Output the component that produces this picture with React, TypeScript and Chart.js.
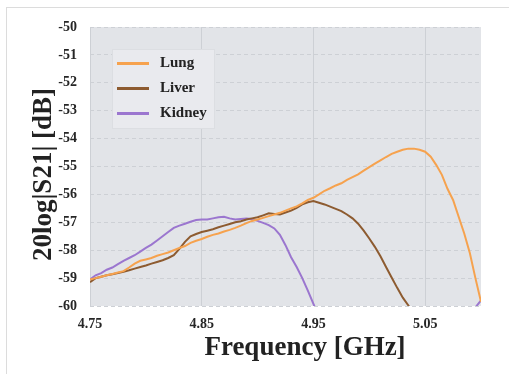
import React, { useEffect, useRef } from "react";
import { Chart, registerables } from "chart.js";

Chart.register(...registerables);

// Frequency grid (GHz)
const freqGHz = [
  4.75, 4.755, 4.76, 4.765, 4.77, 4.775, 4.78, 4.785, 4.79, 4.795,
  4.8, 4.805, 4.81, 4.815, 4.82, 4.825, 4.83, 4.835, 4.84, 4.845,
  4.85, 4.855, 4.86, 4.865, 4.87, 4.875, 4.88, 4.885, 4.89, 4.895,
  4.9, 4.905, 4.91, 4.915, 4.92, 4.925, 4.93, 4.935, 4.94, 4.945,
  4.95, 4.955, 4.96, 4.965, 4.97, 4.975, 4.98, 4.985, 4.99, 4.995,
  5.0, 5.005, 5.01, 5.015, 5.02, 5.025, 5.03, 5.035, 5.04, 5.045,
  5.05, 5.055, 5.06, 5.065, 5.07, 5.075, 5.08, 5.085, 5.09, 5.095,
  5.1,
];

const lungDb = [
  -59.05, -59.0, -58.95, -58.9, -58.85, -58.8, -58.75, -58.62, -58.48, -58.38,
  -58.33, -58.28, -58.2, -58.14, -58.08, -58.0, -57.92, -57.85, -57.74, -57.66,
  -57.6, -57.52, -57.45, -57.4, -57.33, -57.27, -57.2, -57.12, -57.03, -56.95,
  -56.9, -56.84, -56.78, -56.72, -56.66, -56.58, -56.5, -56.43, -56.32, -56.2,
  -56.12, -56.0, -55.87, -55.78, -55.68, -55.6, -55.48, -55.38, -55.28, -55.15,
  -55.02, -54.9, -54.78, -54.66, -54.55, -54.47, -54.4, -54.36, -54.36, -54.4,
  -54.47, -54.65, -54.95, -55.3, -55.8, -56.2, -56.8, -57.4, -58.1, -59.0,
  -59.85,
];

const liverDb = [
  -59.15, -59.0, -58.95, -58.9, -58.86, -58.82, -58.77, -58.72, -58.66, -58.6,
  -58.55, -58.48, -58.42, -58.36, -58.28, -58.18, -57.95, -57.7, -57.5, -57.42,
  -57.35, -57.3, -57.25, -57.18, -57.12, -57.06, -57.0, -56.96, -56.9, -56.86,
  -56.82, -56.75, -56.68, -56.7, -56.72, -56.65, -56.58, -56.48, -56.36, -56.28,
  -56.24, -56.3, -56.36, -56.44, -56.52, -56.6, -56.72, -56.86, -57.05, -57.3,
  -57.58, -57.88, -58.22, -58.6, -58.98, -59.35, -59.7, -59.98, -60.3, -60.7,
  -61.1, -61.5, -62.0, -62.5, -63.0, -63.5, -64.0, -64.5, -65.0, -65.5,
  -66.0,
];

const kidneyDb = [
  -59.05, -58.9, -58.82, -58.7, -58.62, -58.5, -58.38, -58.28, -58.18, -58.05,
  -57.92, -57.8, -57.65, -57.5, -57.35, -57.2, -57.12, -57.05, -56.98, -56.92,
  -56.9, -56.9, -56.86, -56.82, -56.8, -56.86, -56.9, -56.88, -56.86, -56.88,
  -56.95, -57.02, -57.1, -57.22, -57.45, -57.82, -58.25, -58.6, -59.0, -59.45,
  -59.92, -60.4, -60.9, -61.5, -61.5, -61.5, -61.5, -61.5, -61.5, -61.5,
  -61.5, -61.5, -61.5, -61.5, -61.5, -61.5, -61.5, -61.5, -61.5, -61.5,
  -61.5, -61.5, -61.5, -61.5, -61.5, -61.5, -61.5, -61.5, -60.6, -60.05,
  -59.8,
];

const seriesLabels = ["Lung", "Liver", "Kidney"];
const seriesColors = ["#f6a24e", "#8d5b30", "#9b76cf"];
const xTickValues = [4.75, 4.85, 4.95, 5.05];
const yTickValues = [-60, -59, -58, -57, -56, -55, -54, -53, -52, -51, -50];
const xTitle = "Frequency [GHz]";
const yTitle = "20log|S21| [dB]";

const SERIF = "'Liberation Serif', 'Times New Roman', serif";

const bgPlugin = {
  id: "plotBg",
  beforeDraw(chart: any) {
    const { ctx, chartArea: a } = chart;
    ctx.save();
    ctx.fillStyle = "#e2e4e8";
    ctx.fillRect(a.left, a.top, a.right - a.left, a.bottom - a.top);
    ctx.restore();
  },
};

const legendPlugin = {
  id: "boxLegend",
  afterDatasetsDraw(chart: any) {
    const { ctx, chartArea: a } = chart;
    const x0 = a.left + 22;
    const y0 = a.top + 22;
    const w = 103;
    const h = 80;
    ctx.save();
    ctx.fillStyle = "#e9eaee";
    ctx.fillRect(x0, y0, w, h);
    ctx.strokeStyle = "#dcdee2";
    ctx.lineWidth = 1;
    ctx.strokeRect(x0 + 0.5, y0 + 0.5, w - 1, h - 1);
    chart.data.datasets.forEach((ds: any, i: number) => {
      const y = y0 + 14.5 + i * 25;
      ctx.strokeStyle = ds.borderColor;
      ctx.lineWidth = 3;
      ctx.beginPath();
      ctx.moveTo(x0 + 5, y);
      ctx.lineTo(x0 + 37, y);
      ctx.stroke();
      ctx.fillStyle = "#222";
      ctx.font = `bold 15px ${SERIF}`;
      ctx.textAlign = "left";
      ctx.textBaseline = "middle";
      ctx.fillText(ds.label, x0 + 48, y);
    });
    ctx.restore();
  },
};

const titlePlugin = {
  id: "axisTitles",
  afterDraw(chart: any) {
    const { ctx } = chart;
    ctx.save();
    ctx.fillStyle = "#222";
    ctx.font = `bold 27px ${SERIF}`;
    ctx.textAlign = "center";
    ctx.textBaseline = "alphabetic";
    ctx.fillText(xTitle, 305, 355);
    ctx.translate(44.5, 174.5);
    ctx.rotate(-Math.PI / 2);
    ctx.textBaseline = "middle";
    ctx.fillText(yTitle, 0, 0);
    ctx.restore();
  },
};

export default function App() {
  const ref = useRef<HTMLCanvasElement | null>(null);

  useEffect(() => {
    if (!ref.current) return;
    const series = [lungDb, liverDb, kidneyDb];
    const chart = new Chart(ref.current, {
      type: "line",
      data: {
        datasets: series.map((vals, i) => ({
          label: seriesLabels[i],
          data: freqGHz.map((f, j) => ({ x: f, y: vals[j] })),
          borderColor: seriesColors[i],
          backgroundColor: seriesColors[i],
          borderWidth: 2,
          pointRadius: 0,
          tension: 0,
          fill: false,
        })),
      },
      options: {
        responsive: false,
        animation: false,
        devicePixelRatio: 1,
        layout: { padding: { left: 0, right: 28, top: 27, bottom: 0 } },
        plugins: {
          legend: { display: false },
          tooltip: { enabled: false },
        },
        scales: {
          x: {
            type: "linear",
            min: 4.75,
            max: 5.1,
            afterBuildTicks: (scale: any) => {
              scale.ticks = xTickValues.map((v) => ({ value: v }));
            },
            afterFit: (scale: any) => {
              scale.height = 68;
            },
            grid: {
              color: "#cdd0d5",
              lineWidth: 1,
              drawTicks: false,
            },
            border: { display: false },
            ticks: {
              padding: 10,
              maxRotation: 0,
              color: "#262626",
              font: { family: SERIF, size: 14, weight: "bold" },
              callback: (v: any) => Number(v).toFixed(2),
            },
          },
          y: {
            type: "linear",
            min: -60,
            max: -50,
            afterBuildTicks: (scale: any) => {
              scale.ticks = yTickValues.map((v) => ({ value: v }));
            },
            afterFit: (scale: any) => {
              scale.width = 90;
            },
            grid: {
              color: "#cdd0d5",
              lineWidth: 1,
              drawTicks: false,
            },
            border: { display: false, dash: [4, 3] },
            ticks: {
              padding: 13,
              color: "#262626",
              font: { family: SERIF, size: 14, weight: "bold" },
              callback: (v: any) => String(v),
            },
          },
        },
      },
      plugins: [bgPlugin, legendPlugin, titlePlugin],
    } as any);
    return () => chart.destroy();
  }, []);

  return (
    <div
      style={{
        position: "absolute",
        left: 0,
        top: 0,
        width: 509,
        height: 374,
        background: "#fff",
        overflow: "hidden",
      }}
    >
      <div
        style={{
          position: "absolute",
          left: 6,
          top: 7,
          width: 520,
          height: 380,
          borderTop: "1px solid #dcdcdc",
          borderLeft: "1px solid #dcdcdc",
        }}
      />
      <canvas
        ref={ref}
        width={509}
        height={374}
        style={{ position: "absolute", left: 0, top: 0, display: "block" }}
      />
    </div>
  );
}
